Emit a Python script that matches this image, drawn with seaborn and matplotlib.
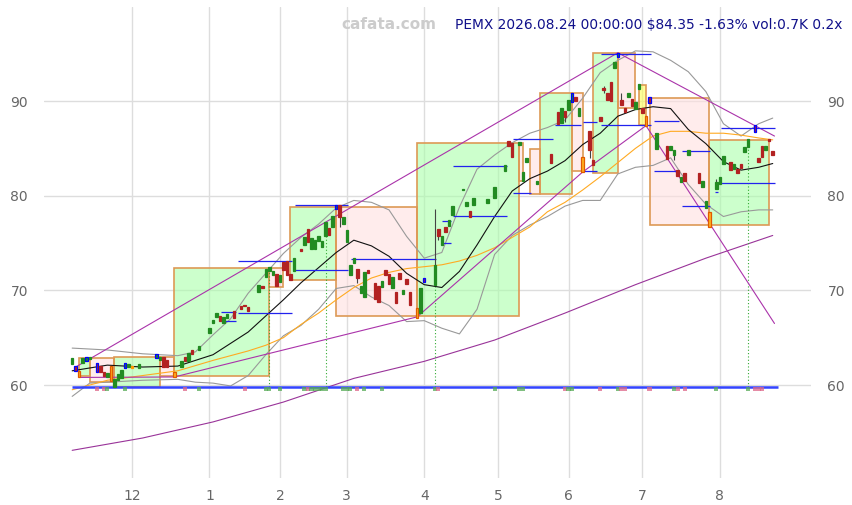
import matplotlib
matplotlib.use("Agg")
import matplotlib.pyplot as plt
from matplotlib.patches import Rectangle
import numpy as np
import pandas as pd
import seaborn as sns

# ---- daily candles (x = trading-day number, 0 = 2025-11-05) ----
day = [0, 1, 2, 3, 4, 5, 7, 8, 9, 10, 11, 12, 13, 14, 15, 16, 17, 19,
       24, 25, 26, 27, 29, 31, 32, 33, 34, 36, 39, 40, 41, 42, 43, 44, 46, 48,
       49, 50, 53, 54, 55, 56, 57, 58, 59, 60, 61, 62, 63, 65, 66, 67, 68, 69,
       70, 71, 72, 73, 74, 75, 76, 77, 78, 79, 80, 81, 82, 83, 84, 86, 87, 88,
       89, 90, 91, 92, 93, 94, 95, 96, 98, 99, 100, 103, 104, 105, 106, 107, 108,
       111, 112, 113, 114, 118, 120, 123, 124, 125, 127, 128, 129, 132, 136, 138,
       139, 140, 141, 142, 143, 144, 145, 147, 148, 150, 151, 152, 153, 154, 155,
       156, 157, 158, 159, 160, 161, 162, 163, 164, 166, 169, 170, 171, 172, 173,
       174, 175, 178, 179, 180, 181, 183, 184, 185, 187, 188, 189, 190, 191, 192,
       194, 195, 196, 197, 198, 199]
opens = [62.2, 62.0, 61.5, 62.3, 62.5, 62.75, 62.3, 62.0, 61.4, 60.85, 62.0, 59.8, 60.5, 60.7, 61.8, 61.9, 61.85, 61.8,
         62.85, 62.6, 62.95, 62.6, 61.4, 61.9, 62.95, 62.5, 63.7, 63.7, 65.5, 66.5, 67.2, 67.3, 66.6, 67.1, 67.8, 68.4,
         68.4, 68.2, 69.8, 70.5, 71.4, 72.0, 71.6, 71.7, 70.9, 73.0, 73.1, 71.7, 72.0, 74.4, 74.8, 76.5, 74.4, 74.4,
         75.2, 74.6, 75.7, 76.6, 76.7, 78.6, 79.0, 77.0, 75.1, 71.6, 72.9, 72.3, 69.7, 69.3, 72.1, 70.8, 70.5, 70.4,
         72.1, 71.7, 70.2, 69.8, 71.8, 69.6, 71.2, 69.8, 68.1, 67.6, 71.3, 70.6, 76.5, 74.8, 76.7, 76.8, 78.0,
         80.55, 78.9, 78.4, 79.0, 79.2, 79.8, 82.6, 85.8, 85.6, 85.4, 81.5, 83.6, 81.2, 84.4, 88.8,
         87.7, 88.9, 89.1, 89.9, 90.4, 88.4, 84.1, 86.8, 83.8, 88.3, 91.3, 90.8, 92.0, 93.5, 94.7,
         90.1, 89.3, 90.4, 90.2, 89.2, 91.3, 89.3, 88.4, 90.4, 84.9, 85.2, 84.8, 84.3, 82.7, 81.4,
         82.4, 84.3, 82.4, 80.9, 78.7, 78.3, 80.7, 81.2, 83.4, 83.6, 82.8, 82.8, 83.3, 84.6, 85.1,
         87.5, 84.0, 85.2, 84.8, 86.0, 84.7]
closes = [62.85, 61.5, 60.8, 62.85, 63.0, 63.0, 61.4, 61.4, 61.0, 61.3, 60.4, 60.6, 61.2, 61.6, 62.3, 62.2, 61.85, 62.2,
          63.3, 62.95, 61.9, 61.9, 60.8, 62.5, 62.5, 63.4, 63.3, 64.1, 66.0, 66.9, 67.6, 66.8, 67.2, 67.5, 67.1, 68.0,
          68.3, 67.8, 70.6, 70.3, 72.3, 72.5, 72.0, 70.5, 71.6, 72.1, 71.6, 71.1, 73.4, 74.2, 75.6, 75.1, 75.5, 75.3,
          75.7, 75.2, 77.2, 75.8, 77.9, 79.0, 77.7, 77.7, 76.4, 72.7, 73.4, 71.3, 70.5, 71.9, 71.8, 69.1, 68.8, 71.0,
          71.6, 70.7, 71.4, 68.7, 71.2, 70.0, 70.7, 68.5, 67.1, 70.2, 70.9, 72.7, 75.7, 75.7, 76.2, 77.4, 78.9,
          80.65, 79.3, 77.8, 79.8, 79.6, 80.9, 83.2, 85.3, 84.1, 85.7, 82.5, 84.0, 81.6, 83.5, 87.6,
          89.3, 88.3, 90.1, 90.9, 90.0, 89.3, 82.5, 84.8, 83.2, 87.9, 91.2, 90.1, 90.0, 94.1, 95.1,
          89.6, 88.8, 90.8, 89.5, 89.9, 91.8, 88.7, 87.4, 89.8, 86.6, 83.9, 85.3, 84.8, 82.1, 82.0,
          81.5, 84.8, 81.3, 81.6, 79.4, 76.7, 81.4, 82.0, 84.2, 82.7, 83.3, 82.4, 82.9, 85.1, 86.0,
          86.7, 83.6, 84.1, 85.3, 85.75, 84.35]

# candles with a visible wick
wick_day = [76, 81, 103, 104, 140, 147, 151, 156, 171, 183]
wick_hi = [79.0, 72.3, 78.6, 76.5, 88.9, 86.8, 91.6, 90.9, 84.8, 81.8]
wick_lo = [76.7, 70.8, 70.6, 75.3, 87.8, 84.0, 90.9, 89.6, 83.8, 80.7]

# swing highs (blue outline) and swing lows (orange outline)
swing_high_day = [1, 4, 7, 15, 24, 75, 100, 142, 155, 164, 194]
swing_low_day = [2, 11, 29, 98, 145, 163, 181]

# ---- indicator lines ----
ma20_day = [0, 10, 20, 30, 40, 50, 55, 60, 65, 70, 75, 80, 85, 90, 95, 100, 105, 110, 115,
            120, 125, 130, 135, 140, 145, 150, 155, 160, 165, 170, 175, 180, 185, 190, 195, 199]
ma20 = [61.5, 62.1, 61.9, 62.0, 63.2, 65.6, 67.3, 69.0, 70.8, 72.4, 74.0, 75.3, 74.7, 73.6, 71.8, 70.6,
        70.3, 72.0, 74.8, 77.8, 80.5, 81.8, 82.6, 83.7, 85.4, 86.6, 88.4, 89.1, 89.4, 89.2, 87.0, 85.5,
        83.6, 82.7, 83.0, 83.4]

band_day = [0, 5, 10, 20, 30, 35, 40, 45, 50, 55, 60, 65, 70, 75, 80, 85, 90, 95, 100, 105, 110, 115,
            120, 125, 130, 135, 140, 145, 150, 155, 160, 165, 170, 175, 180, 185, 190, 195, 199]
band_up = [63.9, 63.8, 63.7, 63.3, 63.1, 63.5, 65.3, 67.0, 69.7, 71.8, 73.9, 75.6, 77.0, 78.7, 79.5, 79.3,
           78.5, 75.7, 73.4, 74.0, 78.8, 82.8, 84.3, 85.6, 86.6, 87.2, 88.0, 90.3, 93.0, 94.3, 95.3, 95.2,
           94.3, 93.1, 91.0, 87.6, 86.3, 87.6, 88.2]
band_lo = [58.8, 60.2, 60.3, 60.5, 60.6, 60.3, 60.2, 59.9, 61.0, 63.2, 65.2, 66.3, 68.0, 70.2, 70.5, 69.3,
           68.4, 66.7, 66.8, 66.0, 65.4, 68.0, 73.8, 75.8, 76.9, 77.8, 78.9, 79.5, 79.5, 82.3, 83.0, 83.2,
           84.0, 81.2, 79.1, 77.8, 78.3, 78.5, 78.5]

ma50_day = [0, 10, 20, 30, 40, 50, 55, 60, 65, 70, 75, 80, 85, 90, 95, 100, 105, 110, 115, 120, 125,
            130, 135, 140, 145, 150, 155, 160, 165, 170, 175, 180, 185, 190, 195, 199]
ma50 = [59.5, 60.5, 61.0, 61.5, 62.6, 63.6, 64.2, 65.0, 66.4, 67.6, 69.0, 70.3, 71.3, 71.9, 72.3, 72.5,
        72.7, 73.1, 73.7, 74.5, 75.6, 76.7, 78.3, 79.3, 80.6, 82.0, 83.5, 85.0, 86.3, 86.8, 86.8, 86.6,
        86.6, 86.4, 86.1, 85.9]

ma200_day = [0, 20, 40, 60, 80, 100, 120, 140, 160, 180, 199]
ma200 = [53.1, 54.4, 56.1, 58.2, 60.7, 62.5, 64.75, 67.6, 70.6, 73.4, 75.8]

# ---- range boxes: start day, end day, low, high, kind ----
box_x0 = [2, 5, 12, 25, 29, 56, 62, 75, 98, 127, 130, 133, 142, 148, 155, 161, 164, 181]
box_x1 = [5, 12, 25, 29, 56, 60, 75, 98, 127, 128, 133, 142, 145, 155, 160, 163, 181, 198]
box_lo = [60.9, 60.3, 59.8, 61.0, 61.0, 70.4, 71.1, 67.3, 67.3, 81.5, 80.2, 80.2, 82.6, 82.4, 89.3, 87.5, 76.9, 76.9]
box_hi = [62.9, 62.9, 63.0, 63.0, 72.4, 72.4, 78.8, 78.8, 85.6, 85.6, 84.9, 90.9, 90.9, 95.1, 95.1, 91.7, 90.3, 85.9]
box_kind = ["up", "down", "up", "down", "up", "down", "up", "down", "up", "down", "down", "up", "down",
            "up", "down", "flat", "down", "up"]

# ---- level segments ----
lvl_x0 = [42.3, 42.3, 47.1, 47.1, 63.3, 63.3, 79.2, 105, 105, 108.2, 108.2, 125.3, 125.3, 137.2, 145.1,
          145.1, 150.2, 150.2, 165.3, 165.3, 173.2, 173.2, 182.6, 182.6, 184.3, 184.3]
lvl_x1 = [46.5, 46.5, 62.4, 62.4, 78.3, 78.3, 103.3, 107.6, 107.6, 123.5, 123.5, 136.6, 130.3, 144.5, 149.1,
          149.1, 164.4, 164.4, 172.4, 172.4, 181.2, 181.2, 183.5, 183.5, 199.6, 199.6]
lvl_y = [67.7, 66.8, 73.1, 67.6, 79.0, 72.2, 73.3, 77.3, 75.0, 83.1, 77.9, 86.0, 80.3, 87.5, 87.8,
         82.6, 95.0, 87.5, 87.9, 82.6, 84.7, 78.9, 81.2, 80.35, 87.2, 81.3]

# ---- trend lines through swing points ----
upper_tl_day = [1, 155, 199.5]
upper_tl = [61.9, 95.1, 86.3]
lower_tl_day = [2, 29, 98, 145, 163, 199.5]
lower_tl = [60.8, 60.85, 67.2, 82.5, 87.4, 66.5]

# volume-spike days (dotted drop lines) and volume marks on the base line
spike_day = [56, 72, 103, 192]
vol_day = [7, 9, 10, 15, 32, 36, 49, 55, 56, 59, 66, 67, 68, 69, 70, 71, 72, 77, 78, 79, 81, 83, 88,
           103, 104, 120, 127, 128, 140, 141, 142, 150, 155, 156, 157, 164, 171, 172, 174, 183, 192,
           194, 195, 196]
base_level = 59.8

month_pos = [17, 39, 59, 78, 100, 121, 141, 162, 184]
month_lab = ["12", "1", "2", "3", "4", "5", "6", "7", "8"]

# ---------------------------------------------------------------
sns.set_style("white")
plt.rcParams["font.family"] = ["DejaVu Sans"]

fig = plt.figure(figsize=(8.53, 5.05), dpi=100)
ax = fig.add_axes([0.0516, 0.0539, 0.8997, 0.9316])
ax.set_xlim(-8, 210)
ax.set_ylim(50.2, 99.9)

GREEN, RED = "#228b22", "#b22222"

# range boxes
box_face = {"up": "#aaffaa", "down": "#ffe0e0", "flat": "#ffff55"}
for x0, x1, lo, hi, k in zip(box_x0, box_x1, box_lo, box_hi, box_kind):
    ax.add_patch(Rectangle((x0, lo), x1 - x0, hi - lo, facecolor=box_face[k], alpha=0.6,
                           edgecolor="none", zorder=1))
    ax.add_patch(Rectangle((x0, lo), x1 - x0, hi - lo, facecolor="none",
                           edgecolor="#dd9955", lw=1.2, zorder=2))

# indicator lines
sns.lineplot(x=band_day, y=band_up, ax=ax, color="#999999", lw=0.8, zorder=3)
sns.lineplot(x=band_day, y=band_lo, ax=ax, color="#999999", lw=0.8, zorder=3)
sns.lineplot(x=ma50_day, y=ma50, ax=ax, color="#ffaa22", lw=0.8, zorder=3)
sns.lineplot(x=ma200_day, y=ma200, ax=ax, color="#993399", lw=0.8, zorder=3)
sns.lineplot(x=ma20_day, y=ma20, ax=ax, color="#111111", lw=0.8, zorder=4)

# trend lines
sns.lineplot(x=upper_tl_day, y=upper_tl, ax=ax, color="#aa33aa", lw=0.8, zorder=4)
sns.lineplot(x=lower_tl_day, y=lower_tl, ax=ax, color="#aa33aa", lw=0.8, zorder=4)

# level segments
ax.hlines(lvl_y, lvl_x0, lvl_x1, colors="#2222ee", lw=0.9, zorder=4)

# base line with volume marks
ax.hlines(base_level, 0, 200.5, colors="#3344ff", lw=1.8, zorder=5)
cmap = {d: (c >= o) for d, o, c in zip(day, opens, closes)}
vcol = ["#55aa55" if cmap.get(d, True) else "#dd6688" for d in vol_day]
ax.scatter(vol_day, [base_level - 0.25] * len(vol_day), marker="s", s=9, c=vcol,
           alpha=0.75, linewidths=0, zorder=5)

# dotted drop lines on volume-spike days
lowmap = {d: min(o, c) for d, o, c in zip(day, opens, closes)}
ax.vlines(spike_day, [base_level] * len(spike_day), [lowmap[d] for d in spike_day],
          colors="#33aa33", lw=0.8, linestyles=(0, (1, 2)), zorder=3)

# wicks
ax.vlines(wick_day, wick_lo, wick_hi, colors="#444444", lw=0.8, zorder=5)

# candle bodies
cd = pd.DataFrame({"day": day, "open": opens, "close": closes})
cd["bottom"] = cd[["open", "close"]].min(axis=1)
cd["height"] = (cd["close"] - cd["open"]).abs().clip(lower=0.15)
face = []
edge = []
for d, o, c in zip(day, opens, closes):
    f = GREEN if c > o else (RED if c < o else "#ff9900")
    e = f
    if d in swing_high_day:
        e = "#0000ff"
    if d in swing_low_day:
        f, e = "#ffb020", "#e05a00"
    face.append(f)
    edge.append(e)
ax.bar(cd["day"], cd["height"], bottom=cd["bottom"], width=0.72, color=face,
       edgecolor=edge, linewidth=0.9, zorder=6)

# axes styling
ax.set_xticks(month_pos)
ax.set_xticklabels(month_lab)
ax.set_yticks([60, 70, 80, 90])
ax.grid(True, color="#dddddd", lw=1)
ax.set_axisbelow(True)
for s in ax.spines.values():
    s.set_visible(False)
ax.tick_params(axis="x", direction="in", length=5, width=1, color="#333333",
               labelcolor="#666666", labelsize=10, pad=8)
ax.tick_params(axis="y", left=False, right=False, labelleft=True, labelright=True,
               labelcolor="#666666", labelsize=10, pad=8)
ax.set_xlabel("")
ax.set_ylabel("")
if ax.get_legend():
    ax.get_legend().remove()

fig.text(0.456, 0.951, "cafata.com", ha="center", va="center", fontsize=11,
         fontweight="bold", color="#cccccc")
fig.text(0.533, 0.951, "PEMX 2026.08.24 00:00:00 $84.35 -1.63% vol:0.7K 0.2x",
         ha="left", va="center", fontsize=9.9, color="#10108a")

fig.savefig("out.png", dpi=100)
